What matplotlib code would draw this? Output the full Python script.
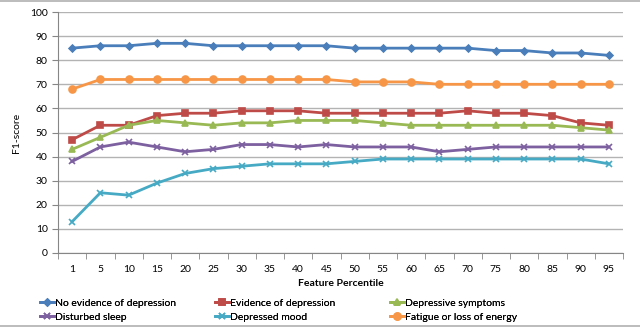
import matplotlib
matplotlib.use("Agg")
import matplotlib.pyplot as plt
from matplotlib.ticker import FixedLocator

plt.rcParams["font.family"] = ["Lato", "DejaVu Sans"]

percentiles = [1, 5, 10, 15, 20, 25, 30, 35, 40, 45, 50, 55, 60, 65, 70, 75, 80, 85, 90, 95]

no_evidence = [85, 86, 86, 87, 87, 86, 86, 86, 86, 86, 85, 85, 85, 85, 85, 84, 84, 83, 83, 82]
evidence = [47, 53, 53, 57, 58, 58, 59, 59, 59, 58, 58, 58, 58, 58, 59, 58, 58, 57, 54, 53]
depressive_symptoms = [43, 48, 53, 55, 54, 53, 54, 54, 55, 55, 55, 54, 53, 53, 53, 53, 53, 53, 52, 51]
disturbed_sleep = [38, 44, 46, 44, 42, 43, 45, 45, 44, 45, 44, 44, 44, 42, 43, 44, 44, 44, 44, 44]
depressed_mood = [13, 25, 24, 29, 33, 35, 36, 37, 37, 37, 38, 39, 39, 39, 39, 39, 39, 39, 39, 37]
fatigue = [68, 72, 72, 72, 72, 72, 72, 72, 72, 72, 71, 71, 71, 70, 70, 70, 70, 70, 70, 70]

series = [
    ("No evidence of depression", no_evidence, "#4A7EBB", "D", 3.5),
    ("Evidence of depression", evidence, "#BE4B48", "s", 4.5),
    ("Depressive symptoms", depressive_symptoms, "#98B954", "^", 4.5),
    ("Disturbed sleep", disturbed_sleep, "#7D60A0", "x", 4.5),
    ("Depressed mood", depressed_mood, "#46AAC5", "x", 4.5),
    ("Fatigue or loss of energy", fatigue, "#F79646", "o", 5),
]

fig = plt.figure(figsize=(6.4, 3.27), dpi=100)
ax = fig.add_axes([58 / 640, 1 - 253 / 327, (623 - 58) / 640, (253 - 12) / 327])

xpos = list(range(len(percentiles)))
handles = {}
for name, vals, color, marker, ms in series:
    (h,) = ax.plot(xpos, vals, color=color, lw=2, marker=marker, ms=ms,
                   mec=color, mfc=color, mew=1.2, label=name)
    handles[name] = h

ax.set_xlim(-0.5, len(percentiles) - 0.5)
ax.set_ylim(0, 100)
ax.set_yticks(range(0, 101, 10))
ax.set_xticks(xpos)
ax.set_xticklabels([str(p) for p in percentiles])
ax.xaxis.set_minor_locator(FixedLocator([i - 0.5 for i in range(len(percentiles) + 1)]))
ax.tick_params(axis="x", which="major", length=0, labelsize=7.5, pad=9)
ax.tick_params(axis="x", which="minor", length=4, color="#868686")
ax.tick_params(axis="y", length=4, color="#868686", labelsize=7.5)
ax.grid(axis="y", color="#B3B3B3", lw=1)
ax.set_axisbelow(True)
for s in ["top", "right"]:
    ax.spines[s].set_visible(False)
for s in ["left", "bottom"]:
    ax.spines[s].set_color("#868686")

ax.set_ylabel("F1-score", fontsize=7.5, labelpad=6)
ax.set_xlabel("Feature Percentile", fontsize=7.5, fontweight="bold", labelpad=3)

# legend: three columns placed by hand, two rows each
columns = [
    (38, ["No evidence of depression", "Disturbed sleep"]),
    (213, ["Evidence of depression", "Depressed mood"]),
    (388, ["Depressive symptoms", "Fatigue or loss of energy"]),
]
for x0, names in columns:
    leg = fig.legend([handles[n] for n in names], names, ncol=1, frameon=False,
                     loc="lower left", bbox_to_anchor=(x0 / 640, 0.01),
                     fontsize=7.5, handlelength=1.3, handletextpad=0.15,
                     labelspacing=0.45, borderaxespad=0, borderpad=0.2)
    fig.add_artist(leg)

fig.add_artist(plt.Line2D([0, 1], [0.998, 0.998], color="#B0B0B0", lw=1.2, transform=fig.transFigure))
fig.add_artist(plt.Line2D([0, 1], [0.004, 0.004], color="#B0B0B0", lw=1.2, transform=fig.transFigure))

fig.savefig("out.png", dpi=100)
